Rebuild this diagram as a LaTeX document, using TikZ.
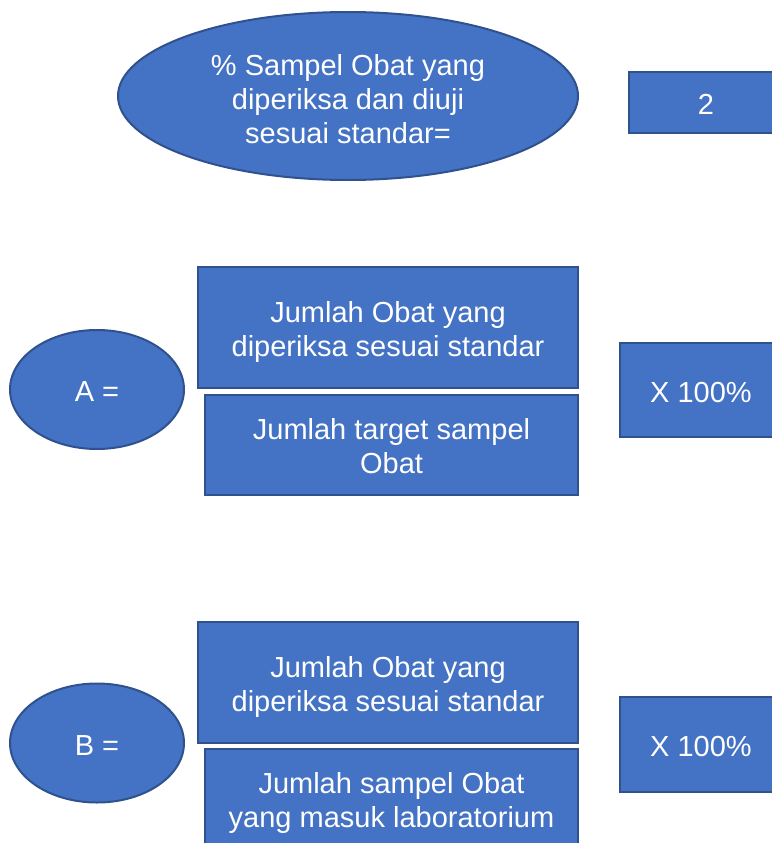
\documentclass[tikz,border=0pt]{standalone}
\usepackage{fontspec}
\setmainfont{Liberation Sans}
\usetikzlibrary{shapes.geometric}
\definecolor{isi}{HTML}{4472C4}
\definecolor{tepi}{HTML}{2F528F}
\tikzset{
  kotak/.style={draw=tepi, fill=isi, line width=2pt, text=white,
    align=center, inner sep=0pt, text depth=0pt,
    font=\fontsize{29}{34}\selectfont},
  bulat/.style={kotak, ellipse},
  sebaris/.style={text height=24pt},
  duabaris/.style={text height=57pt},
  tigabaris/.style={text height=94pt},
  geserkiri/.style={execute at begin node={\hspace*{-#1}}}
}

\begin{document}
\begin{tikzpicture}[x=1pt,y=-1pt]
  \useasboundingbox (0,0) rectangle (771,843);

  \node[bulat, tigabaris, minimum width=460pt, minimum height=168pt] (judul) at (348,96)
    {\% Sampel Obat yang\\diperiksa dan diuji\\sesuai standar=};
  \node[kotak, sebaris, geserkiri=37pt, minimum width=191pt, minimum height=61pt]
    (dua) at (724.5,102.5) {2};

  \node[bulat, sebaris, minimum width=174pt, minimum height=119pt] (a) at (97,389.5) {A =};
  \node[kotak, duabaris, minimum width=380pt, minimum height=121pt] (a-atas) at (388,327.5)
    {Jumlah Obat yang\\diperiksa sesuai standar};
  \node[kotak, duabaris, minimum width=373pt, minimum height=100pt] (a-bawah) at (391.5,445)
    {Jumlah target sampel\\Obat};
  \node[kotak, sebaris, geserkiri=38pt, minimum width=200pt, minimum height=94pt]
    (a-kali) at (720,390) {X 100\%};

  \node[bulat, sebaris, minimum width=174pt, minimum height=119pt] (b) at (97,743) {B =};
  \node[kotak, duabaris, minimum width=380pt, minimum height=121pt] (b-atas) at (388,682.5)
    {Jumlah Obat yang\\diperiksa sesuai standar};
  \node[kotak, duabaris, minimum width=373pt, minimum height=100pt] (b-bawah) at (391.5,799)
    {Jumlah sampel Obat\\yang masuk laboratorium};
  \node[kotak, sebaris, geserkiri=38pt, minimum width=200pt, minimum height=95pt]
    (b-kali) at (720,744.5) {X 100\%};
\end{tikzpicture}
\end{document}
